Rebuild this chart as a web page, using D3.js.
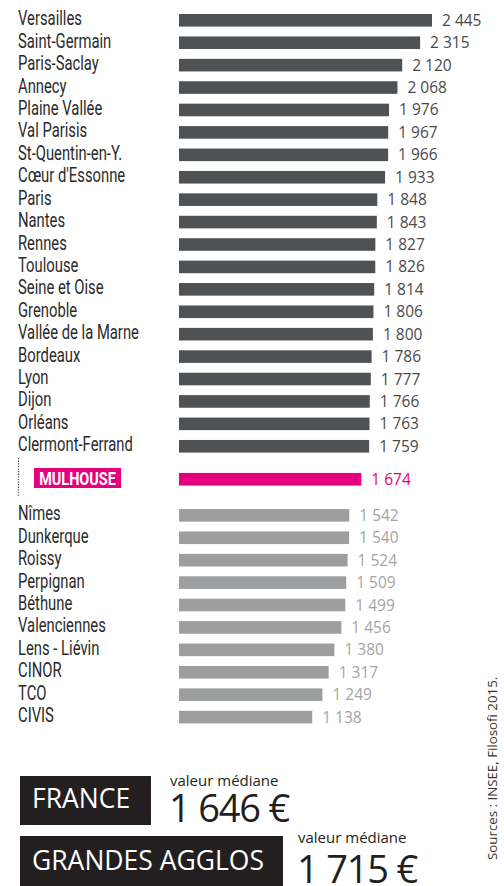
<!DOCTYPE html>
<html>
<head>
<meta charset="utf-8">
<script src="https://cdn.jsdelivr.net/npm/d3@7"></script>
<style>
  body { margin: 0; background: #fff; }
  svg { display: block; }
  .lbl { font-family: Roboto, "DejaVu Sans", sans-serif; font-size: 19px; }
  .val { font-family: "Open Sans", sans-serif; font-size: 15.5px; }
  .big { font-family: "Open Sans", sans-serif; }
</style>
</head>
<body>
<script>
var width = 504,
    height = 886;

// agglos au-dessus de Mulhouse
var topNames = ["Versailles", "Saint-Germain", "Paris-Saclay", "Annecy", "Plaine Vallée",
  "Val Parisis", "St-Quentin-en-Y.", "Cœur d'Essonne", "Paris", "Nantes", "Rennes",
  "Toulouse", "Seine et Oise", "Grenoble", "Vallée de la Marne", "Bordeaux", "Lyon",
  "Dijon", "Orléans", "Clermont-Ferrand"];
var topValues = [2445, 2315, 2120, 2068, 1976, 1967, 1966, 1933, 1848, 1843, 1827,
  1826, 1814, 1806, 1800, 1786, 1777, 1766, 1763, 1759];

var focusName = "MULHOUSE";
var focusValue = 1674;

// agglos en dessous
var bottomNames = ["Nîmes", "Dunkerque", "Roissy", "Perpignan", "Béthune", "Valenciennes",
  "Lens - Liévin", "CINOR", "TCO", "CIVIS"];
var bottomValues = [1542, 1540, 1524, 1509, 1499, 1456, 1380, 1317, 1249, 1138];

var medianLabel = "valeur médiane";
var refNames = ["FRANCE", "GRANDES AGGLOS"];
var refValues = [1646, 1715];
var source = "Sources : INSEE, Filosofi 2015.";

var fmt = function(v) { return d3.format(",")(v).replace(",", " "); };

var rows = [];
topNames.forEach(function(n, i) { rows.push({name: n, value: topValues[i], pos: i, kind: "top"}); });
rows.push({name: focusName, value: focusValue, pos: 20.47, kind: "focus"});
bottomNames.forEach(function(n, i) { rows.push({name: n, value: bottomValues[i], pos: 22.08 + i, kind: "bottom"}); });

var barH = 12.6;
var x = d3.scaleLinear().domain([-316, 2445]).range([179, 432]);
var y = d3.scaleLinear().domain([0, 1]).range([14, 36.42]);

var barColor = {top: "#4f5254", focus: "#e6007e", bottom: "#9c9e9f"};
var valColor = {top: "#4a4a4a", focus: "#e6007e", bottom: "#a3a5a7"};

var svg = d3.select("body").append("svg")
    .attr("width", width)
    .attr("height", height);

svg.append("g").selectAll("rect").data(rows)
  .enter().append("rect")
    .attr("x", x(-316))
    .attr("y", d => y(d.pos))
    .attr("width", d => x(d.value) - x(-316))
    .attr("height", barH)
    .attr("fill", d => barColor[d.kind]);

svg.append("g").selectAll("text").data(rows)
  .enter().append("text")
    .attr("class", "val")
    .attr("x", d => x(d.value) + 10)
    .attr("y", d => y(d.pos) + barH / 2 + 5.5)
    .style("fill", d => valColor[d.kind])
    .text(d => fmt(d.value));

// noms, police étroite simulée
svg.append("g").selectAll("text").data(rows.filter(d => d.kind != "focus"))
  .enter().append("text")
    .attr("class", "lbl")
    .attr("transform", d => "translate(18," + (y(d.pos) + barH / 2 + 5) + ") scale(0.78,1.08)")
    .style("fill", "#2b2b2b")
    .text(d => d.name);

// Mulhouse
svg.append("line")
    .attr("x1", 18.5).attr("x2", 18.5)
    .attr("y1", 458).attr("y2", 497)
    .attr("stroke", "#555")
    .attr("stroke-width", 1.2)
    .attr("stroke-dasharray", "1.3 1.3");
svg.append("rect")
    .attr("x", 34).attr("y", 468)
    .attr("width", 87).attr("height", 20)
    .attr("fill", "#e6007e");
svg.append("text")
    .attr("class", "lbl")
    .attr("transform", "translate(77.5,485) scale(0.85,1.08)")
    .attr("text-anchor", "middle")
    .style("font-weight", "bold")
    .style("font-size", "17px")
    .style("fill", "#fff")
    .text(focusName);

// encadrés du bas
var boxes = [
  {x: 20, y: 776, w: 131, h: 49, tx: 32, ty: 808, vx: 170, vy: 786, ny: 822},
  {x: 20, y: 836, w: 263, h: 50, tx: 32, ty: 870, vx: 298, vy: 843, ny: 883}
];
boxes.forEach(function(b, i) {
  svg.append("rect")
      .attr("x", b.x).attr("y", b.y)
      .attr("width", b.w).attr("height", b.h)
      .attr("fill", "#231f20");
  svg.append("text")
      .attr("class", "big")
      .attr("x", b.tx).attr("y", b.ty)
      .style("font-size", "26.5px")
      .style("fill", "#fff")
      .text(refNames[i]);
  svg.append("text")
      .attr("class", "big")
      .attr("x", b.vx).attr("y", b.vy)
      .style("font-size", "15px")
      .style("fill", "#231f20")
      .text(medianLabel);
  svg.append("text")
      .attr("class", "big")
      .attr("x", b.vx - 1).attr("y", b.ny)
      .style("font-size", "38px")
      .style("letter-spacing", "-1.2px")
      .style("fill", "#231f20")
      .text(fmt(refValues[i]) + " €");
});

svg.append("text")
    .attr("class", "big")
    .attr("transform", "translate(497,860) rotate(-90)")
    .style("font-size", "13.3px")
    .style("fill", "#333")
    .text(source);
</script>
</body>
</html>
